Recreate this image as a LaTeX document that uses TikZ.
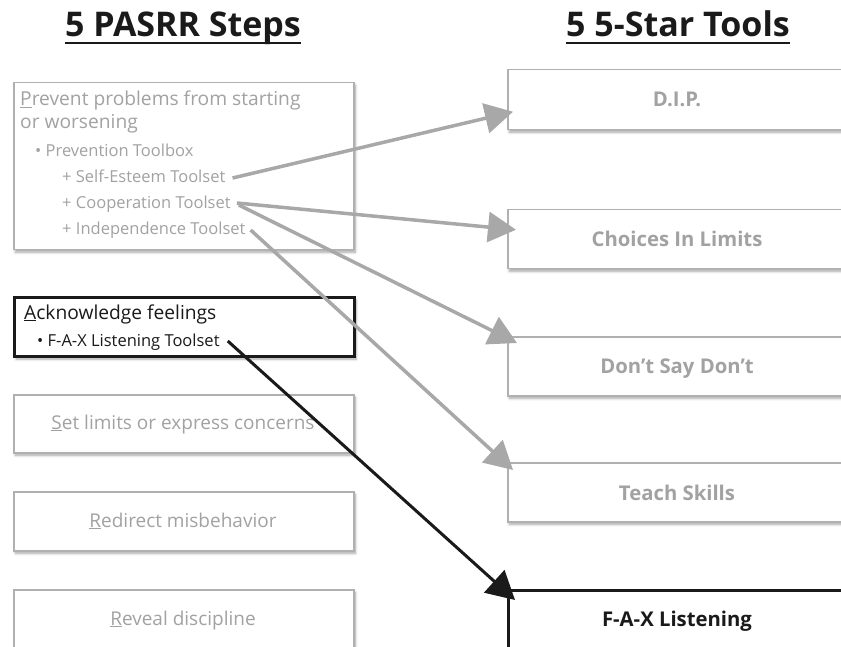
\documentclass[tikz,border=0pt]{standalone}
\usepackage{fontspec}
\setmainfont{Open Sans}
\usetikzlibrary{arrows.meta,shadows.blur}

\definecolor{boxgray}{RGB}{176,176,176}
\definecolor{txtgray}{RGB}{162,162,162}
\definecolor{arrowgray}{RGB}{168,168,168}
\definecolor{inkblack}{RGB}{26,26,26}

\tikzset{
  softshadow/.style={blur shadow={shadow xshift=1.5pt, shadow yshift=-2.5pt,
      shadow blur radius=2.5pt, shadow blur steps=6, shadow opacity=35}},
  stepbox/.style={draw=boxgray, line width=1.5pt, fill=white, softshadow,
      anchor=north west, minimum width=340pt, inner sep=0pt},
  activebox/.style={stepbox, draw=inkblack, line width=3.2pt},
  heading/.style={font=\bfseries\fontsize{34}{40}\selectfont, text=inkblack,
      anchor=base, inner sep=0pt},
  headrule/.style={draw=inkblack, line width=2pt},
  mainline/.style={font=\fontsize{19.2}{22}\selectfont, anchor=base west, inner sep=0pt},
  subline/.style={font=\fontsize{16.5}{20}\selectfont, anchor=base west, inner sep=0pt},
  steplabel/.style={font=\fontsize{19}{22}\selectfont, text=txtgray, anchor=base, inner sep=0pt},
  toollabel/.style={font=\bfseries\fontsize{20.3}{24}\selectfont, text=txtgray, anchor=base, inner sep=0pt},
  link/.style={draw=arrowgray, line width=3.5pt, -{Triangle[length=28pt,width=30pt]}},
  activelink/.style={link, draw=inkblack, line width=3pt},
}

\begin{document}
\begin{tikzpicture}[x=1pt,y=-1pt]
\useasboundingbox (0,0) rectangle (841,647);

% column headings
\node[heading] (lefttitle) at (183,37) {5 PASRR Steps};
\node[heading] (righttitle) at (678,37) {5 5-Star Tools};
\draw[headrule] ([yshift=-6pt]lefttitle.base west) -- ([yshift=-6pt]lefttitle.base east);
\draw[headrule] ([yshift=-6pt]righttitle.base west) -- ([yshift=-6pt]righttitle.base east);

% the five steps
\node[stepbox, minimum height=167pt] (prevent) at (13,82) {};
\node[activebox, minimum height=59pt] (ack) at (13,296) {};
\node[stepbox, minimum height=58pt] (setlim) at (13,394) {};
\node[stepbox, minimum height=59pt] (redirect) at (13,491) {};
\node[stepbox, minimum height=64pt] (reveal) at (13,589) {};

% the five tools
\node[stepbox, minimum height=60pt] (dip) at (507,69) {};
\node[stepbox, minimum height=59pt] (choices) at (507,209) {};
\node[stepbox, minimum height=59pt] (dontsay) at (507,336) {};
\node[stepbox, minimum height=59pt] (teach) at (507,462) {};
\node[activebox, minimum height=64pt] (fax) at (507,589) {};

% step texts
\node[mainline, text=txtgray] (prev1) at (20,106) {\underline{P}revent problems from starting};
\node[mainline, text=txtgray] (prev2) at (20,129) {or worsening};
\node[subline, text=txtgray] (toolbox) at (35,157) {• Prevention Toolbox};
\node[subline, text=txtgray] (selfesteem) at (62,183) {+ Self-Esteem Toolset};
\node[subline, text=txtgray] (cooperation) at (62,209) {+ Cooperation Toolset};
\node[subline, text=txtgray] (independence) at (62,235) {+ Independence Toolset};

\node[mainline, text=inkblack] (acktext) at (24,319) {\underline{A}cknowledge feelings};
\node[subline, text=inkblack] (faxtool) at (37,346) {• F-A-X Listening Toolset};

\node[steplabel] (setlimtext) at (183,429) {\underline{S}et limits or express concerns};
\node[steplabel] (redirecttext) at (183,527) {\underline{R}edirect misbehavior};
\node[steplabel] (revealtext) at (183,625) {\underline{R}eveal discipline};

% tool texts
\node[toollabel] (diptext) at (677,107) {D.I.P.};
\node[toollabel] (choicestext) at (677,247) {Choices In Limits};
\node[toollabel] (dontsaytext) at (677,373) {Don’t Say Don’t};
\node[toollabel] (teachtext) at (677,500) {Teach Skills};
\node[toollabel, text=inkblack] (faxtext) at (677,626) {F-A-X Listening};

% links from toolsets to tools
\draw[link] ([shift={(7,-5)}]selfesteem.base east) -- ([shift={(6,12)}]dip.west);
\draw[link] ([shift={(6,-6)}]cooperation.base east) -- ([shift={(9,-9.5)}]choices.west);
\draw[link] ([shift={(8,-4)}]cooperation.base east) -- ([shift={(10,7)}]dontsay.north west);
\draw[link] ([shift={(5,-5)}]independence.base east) -- ([shift={(6,8)}]teach.north west);
\draw[activelink] ([shift={(8,-5)}]faxtool.base east) -- ([shift={(8,11)}]fax.north west);
\end{tikzpicture}
\end{document}
